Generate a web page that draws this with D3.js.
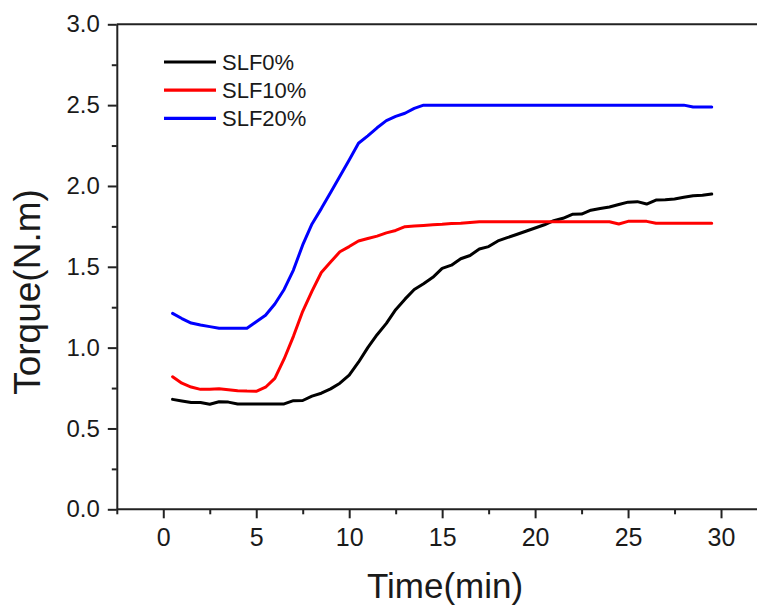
<!DOCTYPE html>
<html lang="en">
<head>
    <meta charset="UTF-8">
    <title>Torque vs Time</title>
    <script src="https://cdnjs.cloudflare.com/ajax/libs/d3/7.8.5/d3.min.js"></script>
    <style>
        body { margin: 0; background: #fff; }
        svg { display: block; }
        text { font-family: "Liberation Sans", Arial, sans-serif; fill: #1a1a1a; }
    </style>
</head>
<body>
<svg width="757" height="606"></svg>

<script>
    // values
    const seriesNames = ["SLF0%", "SLF10%", "SLF20%"];
    const seriesColors = ["#000000", "#ff0000", "#0000ff"];

    const timeSLF0 = [0.5, 1.0, 1.5, 2.0, 2.5, 3.0, 3.5, 4.0, 4.5, 5.0, 5.5, 6.0, 6.5, 7.0, 7.5, 8.0, 8.5, 9.0, 9.5, 10.0,
        10.5, 11.0, 11.5, 12.0, 12.5, 13.0, 13.5, 14.0, 14.5, 15.0, 15.5, 16.0, 16.5, 17.0, 17.5, 18.0, 18.5, 19.0, 19.5, 20.0,
        20.5, 21.0, 21.5, 22.0, 22.5, 23.0, 23.5, 24.0, 24.5, 25.0, 25.5, 26.0, 26.5, 27.0, 27.5, 28.0, 28.5, 29.0, 29.5];
    const torqueSLF0 = [0.68, 0.67, 0.66, 0.66, 0.65, 0.665, 0.663, 0.651, 0.651, 0.651, 0.651, 0.651, 0.652, 0.672, 0.673, 0.70, 0.718, 0.745, 0.78, 0.83,
        0.91, 1.0, 1.08, 1.15, 1.235, 1.30, 1.36, 1.395, 1.435, 1.49, 1.51, 1.55, 1.57, 1.61, 1.625, 1.66, 1.68, 1.70, 1.72, 1.74,
        1.76, 1.785, 1.80, 1.825, 1.826, 1.85, 1.86, 1.87, 1.885, 1.90, 1.903, 1.888, 1.913, 1.915, 1.92, 1.93, 1.94, 1.942, 1.95];

    const timeSLF10 = [0.5, 1.0, 1.5, 2.0, 2.5, 3.0, 3.5, 4.0, 4.5, 5.0, 5.5, 6.0, 6.5, 7.0, 7.5, 8.0, 8.5, 9.0, 9.5, 10.0,
        10.5, 11.0, 11.5, 12.0, 12.5, 13.0, 13.5, 14.0, 14.5, 15.0, 15.5, 16.0, 16.5, 17.0, 18.0, 19.0, 20.0, 21.0, 22.0, 23.0,
        24.0, 24.5, 25.0, 25.5, 26.0, 26.5, 27.0, 28.0, 29.0, 29.5];
    const torqueSLF10 = [0.82, 0.78, 0.756, 0.742, 0.742, 0.746, 0.74, 0.734, 0.731, 0.730, 0.755, 0.81, 0.93, 1.07, 1.225, 1.35, 1.465, 1.53, 1.593, 1.625,
        1.66, 1.675, 1.69, 1.71, 1.725, 1.748, 1.752, 1.756, 1.76, 1.763, 1.768, 1.77, 1.774, 1.779, 1.779, 1.779, 1.779, 1.779, 1.779, 1.779,
        1.779, 1.765, 1.781, 1.781, 1.781, 1.769, 1.769, 1.769, 1.769, 1.769];

    const timeSLF20 = [0.5, 1.0, 1.5, 2.0, 2.5, 3.0, 3.5, 4.0, 4.5, 5.0, 5.5, 6.0, 6.5, 7.0, 7.5, 8.0, 8.5, 9.0, 9.5, 10.0,
        10.5, 11.0, 11.5, 12.0, 12.5, 13.0, 13.5, 14.0, 16.0, 18.0, 20.0, 22.0, 24.0, 26.0, 28.0, 28.5, 29.0, 29.5];
    const torqueSLF20 = [1.212, 1.18, 1.152, 1.14, 1.13, 1.12, 1.12, 1.12, 1.12, 1.16, 1.20, 1.27, 1.36, 1.48, 1.635, 1.765, 1.86, 1.96, 2.06, 2.16,
        2.264, 2.31, 2.36, 2.404, 2.43, 2.45, 2.48, 2.5, 2.5, 2.5, 2.5, 2.5, 2.5, 2.5, 2.5, 2.488, 2.488, 2.488];

    const xMajorTicks = [0, 5, 10, 15, 20, 25, 30];
    const xMinorTicks = [-2.5, 2.5, 7.5, 12.5, 17.5, 22.5, 27.5];
    const yMajorTicks = [0, 0.5, 1.0, 1.5, 2.0, 2.5, 3.0];
    const yMinorTicks = [0.25, 0.75, 1.25, 1.75, 2.25, 2.75];

    const xLabel = "Time(min)";
    const yLabel = "Torque(N.m)";

    const series = [
        { name: seriesNames[0], color: seriesColors[0], t: timeSLF0, v: torqueSLF0 },
        { name: seriesNames[1], color: seriesColors[1], t: timeSLF10, v: torqueSLF10 },
        { name: seriesNames[2], color: seriesColors[2], t: timeSLF20, v: torqueSLF20 }
    ];

    const svg = d3.select("svg");
    const axisColor = "#222";

    const x = d3.scaleLinear().domain([-2.5, 32]).range([116.8, 758.2]);
    const y = d3.scaleLinear().domain([0, 3]).range([509.3, 24.3]);

    // top frame line
    svg.append("line")
        .attr("x1", x(-2.5)).attr("x2", 757)
        .attr("y1", y(3)).attr("y2", y(3))
        .attr("stroke", axisColor).attr("stroke-width", 2);

    // minor ticks first
    svg.append("g")
        .attr("transform", `translate(0,${y(0)})`)
        .call(d3.axisBottom(x).tickValues(xMinorTicks).tickSize(5).tickFormat(""))
        .call(g => g.select(".domain").remove())
        .call(g => g.selectAll("line").attr("stroke", axisColor).attr("stroke-width", 2));

    svg.append("g")
        .attr("transform", `translate(${x(-2.5)},0)`)
        .call(d3.axisLeft(y).tickValues(yMinorTicks).tickSize(5).tickFormat(""))
        .call(g => g.select(".domain").remove())
        .call(g => g.selectAll("line").attr("stroke", axisColor).attr("stroke-width", 2));

    const xAxis = svg.append("g")
        .attr("transform", `translate(0,${y(0)})`)
        .call(d3.axisBottom(x).tickValues(xMajorTicks).tickSize(9).tickSizeOuter(0).tickPadding(10).tickFormat(d3.format("d")));
    xAxis.select(".domain").attr("d", `M${x(-2.5)},0H757`).attr("stroke", axisColor).attr("stroke-width", 2);
    xAxis.selectAll("line").attr("stroke", axisColor).attr("stroke-width", 2);
    xAxis.selectAll("text").attr("font-size", 25).attr("fill", "#1a1a1a")
        .style("font-family", '"Liberation Sans", Arial, sans-serif');

    const yAxis = svg.append("g")
        .attr("transform", `translate(${x(-2.5)},0)`)
        .call(d3.axisLeft(y).tickValues(yMajorTicks).tickSize(9).tickSizeOuter(0).tickPadding(8).tickFormat(d3.format(".1f")));
    yAxis.select(".domain").attr("stroke", axisColor).attr("stroke-width", 2);
    yAxis.selectAll("line").attr("stroke", axisColor).attr("stroke-width", 2);
    yAxis.selectAll("text").attr("font-size", 24).attr("fill", "#1a1a1a")
        .style("font-family", '"Liberation Sans", Arial, sans-serif');

    // curves
    const line = d3.line()
        .x(d => x(d[0]))
        .y(d => y(d[1]));

    svg.append("g")
        .selectAll("path")
        .data(series)
        .enter()
        .append("path")
        .attr("d", s => line(s.t.map((t, i) => [t, s.v[i]])))
        .attr("fill", "none")
        .attr("stroke", s => s.color)
        .attr("stroke-width", 3)
        .attr("stroke-linejoin", "round")
        .attr("stroke-linecap", "round");

    // legend
    const legend = svg.append("g").attr("transform", "translate(164,62)");
    const item = legend.selectAll("g")
        .data(series)
        .enter()
        .append("g")
        .attr("transform", (d, i) => `translate(0,${i * 28.2})`);
    item.append("line")
        .attr("x1", 0).attr("x2", 52)
        .attr("stroke", d => d.color)
        .attr("stroke-width", 3.2);
    item.append("text")
        .attr("x", 58)
        .attr("dy", "0.36em")
        .attr("font-size", 22)
        .text(d => d.name);

    // axis titles
    svg.append("text")
        .attr("x", 445)
        .attr("y", 598)
        .attr("text-anchor", "middle")
        .attr("font-size", 35)
        .text(xLabel);

    svg.append("text")
        .attr("transform", "translate(40,292) rotate(-90)")
        .attr("text-anchor", "middle")
        .attr("font-size", 37)
        .text(yLabel);
</script>
</body>
</html>
